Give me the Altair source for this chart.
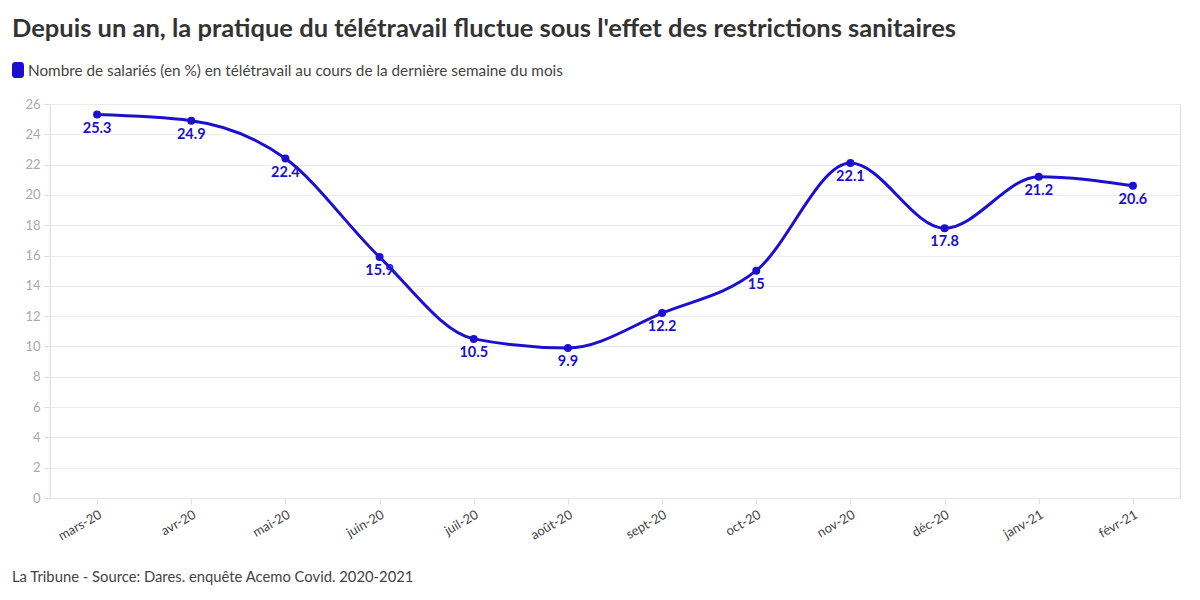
import altair as alt
import pandas as pd

months = ["mars-20", "avr-20", "mai-20", "juin-20", "juil-20", "août-20",
          "sept-20", "oct-20", "nov-20", "déc-20", "janv-21", "févr-21"]
share = [25.3, 24.9, 22.4, 15.9, 10.5, 9.9, 12.2, 15, 22.1, 17.8, 21.2, 20.6]
y_ticks = list(range(0, 27, 2))

title_text = "Depuis un an, la pratique du télétravail fluctue sous l'effet des restrictions sanitaires"
legend_text = "Nombre de salariés (en %) en télétravail au cours de la dernière semaine du mois"
footer_text = "La Tribune - Source: Dares. enquête Acemo Covid. 2020-2021"

BLUE = "#1c0fcf"
FONT = "Lato"

df = pd.DataFrame({"mois": months, "valeur": share})
df["label"] = [f"{v:g}" for v in share]
one = pd.DataFrame({"k": [0]})

x = alt.X("mois:N", sort=months, title=None,
          scale=alt.Scale(type="point", padding=0.5),
          axis=alt.Axis(labelAngle=-30, labelAlign="right", labelBaseline="top",
                        labelColor="#444444", labelFontSize=13, labelFont=FONT,
                        labelPadding=4, domainColor="#e6e6e6", tickColor="#dddddd",
                        tickSize=6, grid=False))
y = alt.Y("valeur:Q", title=None,
          scale=alt.Scale(domain=[0, 26], nice=False, zero=True),
          axis=alt.Axis(values=y_ticks, labelColor="#aaaaaa", labelFontSize=13,
                        labelFont=FONT, domain=False, tickColor="#dddddd", tickSize=6,
                        gridColor="#ebebeb", labelPadding=4))

base = alt.Chart(df)

line = base.mark_line(color=BLUE, strokeWidth=3, interpolate="monotone").encode(x=x, y=y)
points = base.mark_circle(color=BLUE, size=64, opacity=1).encode(x=x, y=y)
labels = base.mark_text(color=BLUE, fontWeight="bold", fontSize=14.5, font=FONT,
                        dy=14, baseline="middle").encode(x=x, y=y, text="label:N")

# vertical left border of the plot
left_rule = alt.Chart(one).mark_rule(color="#ebebeb").encode(
    x=alt.value(0), y=alt.value(0), y2=alt.value(394))

title = alt.Chart(one).mark_text(
    text=title_text, font=FONT, fontSize=25.5, fontWeight="bold", color="#333333",
    align="left", baseline="middle").encode(x=alt.value(-38), y=alt.value(-75))
legend_sq = alt.Chart(one).mark_rect(color=BLUE, cornerRadius=3).encode(
    x=alt.value(-38), x2=alt.value(-26), y=alt.value(-42), y2=alt.value(-26))
legend_txt = alt.Chart(one).mark_text(
    text=legend_text, font=FONT, fontSize=15.3, color="#444444",
    align="left", baseline="middle").encode(x=alt.value(-22), y=alt.value(-33))
footer = alt.Chart(one).mark_text(
    text=footer_text, font=FONT, fontSize=14.8, color="#444444",
    align="left", baseline="middle").encode(x=alt.value(-38), y=alt.value(474))

chart = alt.layer(left_rule, line, points, labels, title, legend_sq, legend_txt, footer).properties(
    width=1130, height=394,
    autosize=alt.AutoSizeParams(type="none"),
    padding={"left": 50, "top": 104, "right": 20, "bottom": 102},
).configure_view(stroke=None).configure(background="white")

chart.save("out.html", embed_options={"renderer": "svg", "actions": False})
